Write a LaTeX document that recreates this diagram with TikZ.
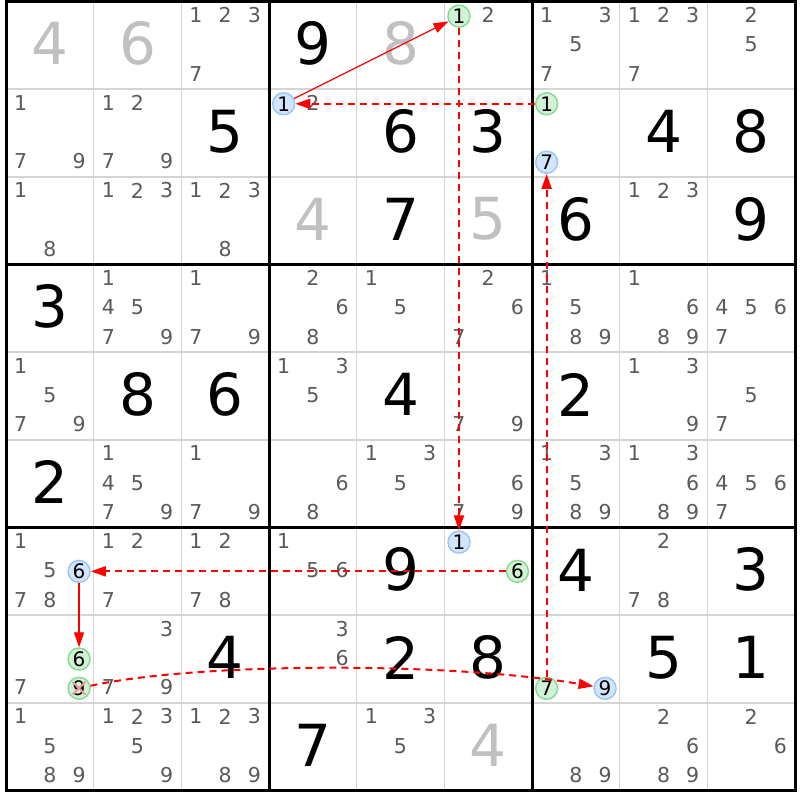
\documentclass[tikz,border=0pt]{standalone}
\usepackage{fontspec}
\setmainfont{DejaVu Sans}
\usetikzlibrary{arrows.meta}
\definecolor{candgray}{HTML}{5A5A5A}
\definecolor{givengray}{HTML}{C0C0C0}
\definecolor{gridgray}{HTML}{D4D4D4}
\definecolor{hlblue}{HTML}{D2E5FC}
\definecolor{hlblueb}{HTML}{96C6F6}
\definecolor{hlgreen}{HTML}{D2F2D6}
\definecolor{hlgreenb}{HTML}{84DA8E}
\definecolor{xred}{HTML}{F29A9A}
\definecolor{linkred}{HTML}{FF0000}
\def\S{87.67}
\def\X{6}
\def\Y{1.5}
\newcommand\cands[3]{\foreach \dd in {#3}{%
  \pgfmathsetmacro\cx{\X+(#2-1)*\S+(mod(\dd-1,3)+0.5)*\S/3}%
  \pgfmathsetmacro\cy{\Y+(#1-1)*\S+(floor((\dd-1)/3)+0.5)*\S/3-1}%
  \node[cand] (n#1#2\dd) at (\cx,\cy) {\dd};}}
\newcommand\hcand[4]{%
  \pgfmathsetmacro\cx{\X+(#2-1)*\S+(mod(#3-1,3)+0.5)*\S/3}%
  \pgfmathsetmacro\cy{\Y+(#1-1)*\S+(floor((#3-1)/3)+0.5)*\S/3}%
  \node[#4] (n#1#2#3) at (\cx,\cy) {#3};}
\newcommand\bigd[4]{%
  \pgfmathsetmacro\cx{\X+(#2-0.5)*\S}%
  \pgfmathsetmacro\cy{\Y+(#1-0.5)*\S-1.5}%
  \node[bigdigit,text=#4] (b#1#2) at (\cx,\cy) {#3};}
\tikzset{
  cand/.style={inner sep=0pt, text=candgray, font=\fontsize{20.5}{20.5}\selectfont},
  bigdigit/.style={inner sep=0pt, font=\fontsize{58}{58}\selectfont},
  hl/.style={circle, minimum size=22pt, inner sep=0pt, line width=1.4pt, text=black, font=\fontsize{20}{20}\selectfont},
  hb/.style={hl, draw=hlblueb, fill=hlblue},
  hg/.style={hl, draw=hlgreenb, fill=hlgreen},
  slink/.style={draw=linkred, line width=1.2pt, -{Triangle[length=15pt,width=10pt,fill=linkred]}},
  wlink/.style={draw=linkred, line width=2pt, dash pattern=on 7pt off 5pt, -{Triangle[length=15pt,width=10pt,fill=linkred]}},
  xmark/.style={xred, line width=2pt},
  thinline/.style={gridgray, line width=1.6pt},
  thickline/.style={black, line width=3pt}
}
\begin{document}
\begin{tikzpicture}[x=1pt,y=-1pt]
\useasboundingbox (0,0) rectangle (800,800);
\fill[white] (0,0) rectangle (800,800);
% grid
\foreach \i in {1,2,4,5,7,8}{
  \draw[thinline] ({\X+\i*\S},\Y) -- ({\X+\i*\S},{\Y+9*\S});
  \draw[thinline] (\X,{\Y+\i*\S}) -- ({\X+9*\S},{\Y+\i*\S});
}
\foreach \i in {0,3,6,9}{
  \draw[thickline] ({\X+\i*\S},{\Y-1.5}) -- ({\X+\i*\S},{\Y+9*\S+1.5});
  \draw[thickline] ({\X-1.5},{\Y+\i*\S}) -- ({\X+9*\S+1.5},{\Y+\i*\S});
}
% big digits
\bigd{1}{1}{4}{givengray}\bigd{1}{2}{6}{givengray}\bigd{1}{4}{9}{black}\bigd{1}{5}{8}{givengray}
\bigd{2}{3}{5}{black}\bigd{2}{5}{6}{black}\bigd{2}{6}{3}{black}\bigd{2}{8}{4}{black}\bigd{2}{9}{8}{black}
\bigd{3}{4}{4}{givengray}\bigd{3}{5}{7}{black}\bigd{3}{6}{5}{givengray}\bigd{3}{7}{6}{black}\bigd{3}{9}{9}{black}
\bigd{4}{1}{3}{black}
\bigd{5}{2}{8}{black}\bigd{5}{3}{6}{black}\bigd{5}{5}{4}{black}\bigd{5}{7}{2}{black}
\bigd{6}{1}{2}{black}
\bigd{7}{5}{9}{black}\bigd{7}{7}{4}{black}\bigd{7}{9}{3}{black}
\bigd{8}{3}{4}{black}\bigd{8}{5}{2}{black}\bigd{8}{6}{8}{black}\bigd{8}{8}{5}{black}\bigd{8}{9}{1}{black}
\bigd{9}{4}{7}{black}\bigd{9}{6}{4}{givengray}
% candidates
\cands{1}{3}{1,2,3,7}\cands{1}{6}{2}\cands{1}{7}{1,3,5,7}\cands{1}{8}{1,2,3,7}\cands{1}{9}{2,5}
\cands{2}{1}{1,7,9}\cands{2}{2}{1,2,7,9}\cands{2}{4}{2}
\cands{3}{1}{1,8}\cands{3}{2}{1,2,3}\cands{3}{3}{1,2,3,8}\cands{3}{8}{1,2,3}
\cands{4}{2}{1,4,5,7,9}\cands{4}{3}{1,7,9}\cands{4}{4}{2,6,8}\cands{4}{5}{1,5}\cands{4}{6}{2,6,7}
\cands{4}{7}{1,5,8,9}\cands{4}{8}{1,6,8,9}\cands{4}{9}{4,5,6,7}
\cands{5}{1}{1,5,7,9}\cands{5}{4}{1,3,5}\cands{5}{6}{7,9}\cands{5}{8}{1,3,9}\cands{5}{9}{5,7}
\cands{6}{2}{1,4,5,7,9}\cands{6}{3}{1,7,9}\cands{6}{4}{6,8}\cands{6}{5}{1,3,5}\cands{6}{6}{6,7,9}
\cands{6}{7}{1,3,5,8,9}\cands{6}{8}{1,3,6,8,9}\cands{6}{9}{4,5,6,7}
\cands{7}{1}{1,5,7,8}\cands{7}{2}{1,2,7}\cands{7}{3}{1,2,7,8}\cands{7}{4}{1,5,6}\cands{7}{8}{2,7,8}
\cands{8}{1}{7}\cands{8}{2}{3,7,9}\cands{8}{4}{3,6}
\cands{9}{1}{1,5,8,9}\cands{9}{2}{1,2,3,5,9}\cands{9}{3}{1,2,3,8,9}\cands{9}{5}{1,3,5}
\cands{9}{7}{8,9}\cands{9}{8}{2,6,8,9}\cands{9}{9}{2,6}
% highlighted candidates
\hcand{1}{6}{1}{hg}
\hcand{2}{4}{1}{hb}
\hcand{2}{7}{1}{hg}\hcand{2}{7}{7}{hb}
\hcand{7}{1}{6}{hb}
\hcand{7}{6}{1}{hb}\hcand{7}{6}{6}{hg}
\hcand{8}{1}{6}{hg}\hcand{8}{1}{9}{hg}
\hcand{8}{7}{7}{hg}\hcand{8}{7}{9}{hb}
\draw[xmark] ([shift={(-6.5,6.5)}]n819.center) -- ([shift={(6.5,-6.5)}]n819.center);
\draw[xmark] ([shift={(-6.5,-6.5)}]n819.center) -- ([shift={(6.5,6.5)}]n819.center);
% links
\coordinate (k1) at (200,662);
\coordinate (k2) at (450,662);
\draw[slink] (n241) -- (n161);
\draw[wlink] (n161) -- (n761);
\draw[wlink] (n271) -- (n241);
\draw[wlink] (n877) -- (n277);
\draw[wlink] (n766) -- (n716);
\draw[slink] (n716) -- (n816);
\draw[wlink] (n819) .. controls (k1) and (k2) .. (n879);
\end{tikzpicture}
\end{document}
